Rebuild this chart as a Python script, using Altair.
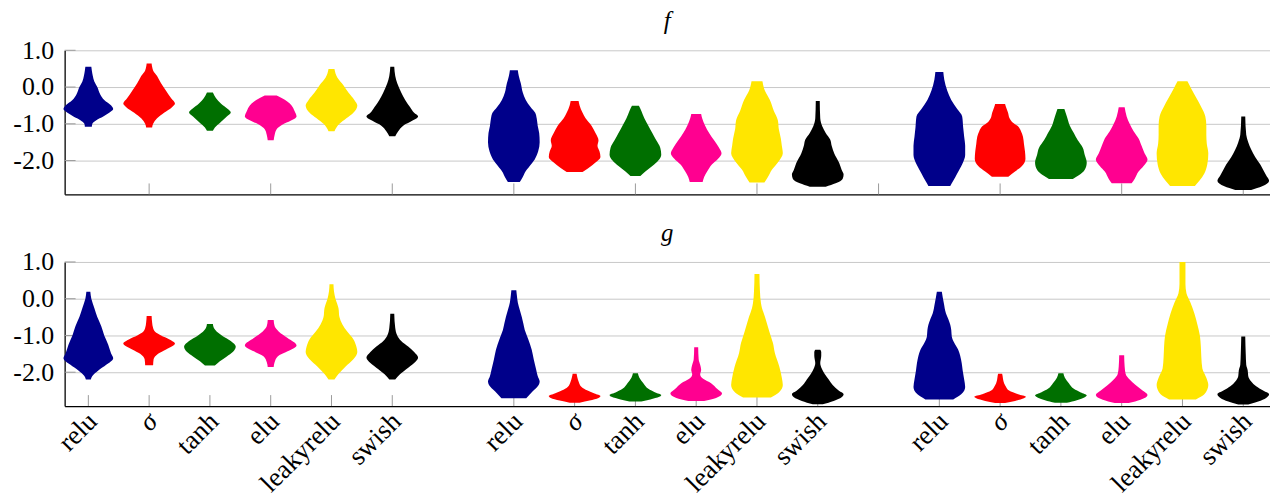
import json
import altair as alt
import pandas as pd

# ---------------- data ----------------
FUNCS = ["relu", "σ", "tanh", "elu", "leakyrelu", "swish"]
COLORS = ["#00008a", "#ff0000", "#006f00", "#ff0090", "#ffe600", "#000000"]
PANEL_NAMES = ["f", "g"]
Y_TICKS = [1.0, 0.0, -1.0, -2.0]
TOP_TICKS = [1, 3, 5, 7, 9, 11, 13, 15, 17, 19]

# violin profiles: (value, half-width density) from bottom to top
F_GROUP1 = {
    "relu": [(-1.08, 3.5), (-1.0, 4), (-0.9, 8), (-0.8, 15), (-0.7, 21), (-0.6, 25), (-0.5, 23), (-0.35, 16), (-0.2, 12), (0.0, 9), (0.15, 6), (0.3, 4.5), (0.45, 3.5), (0.55, 3)],
    "σ": [(-1.1, 3), (-1.0, 4), (-0.85, 8), (-0.7, 15), (-0.55, 23), (-0.45, 26), (-0.3, 22), (-0.1, 17), (0.1, 12), (0.3, 8), (0.45, 4), (0.55, 3), (0.64, 2.5)],
    "tanh": [(-1.19, 3), (-1.1, 5), (-0.95, 11), (-0.8, 17), (-0.69, 21), (-0.6, 18), (-0.45, 11), (-0.3, 6), (-0.15, 3)],
    "elu": [(-1.45, 3), (-1.3, 4), (-1.15, 6), (-1.02, 12), (-0.92, 20), (-0.8, 26), (-0.65, 24), (-0.5, 21), (-0.4, 17), (-0.3, 11), (-0.23, 6)],
    "leakyrelu": [(-1.2, 3), (-1.1, 5), (-1.0, 8), (-0.85, 15), (-0.7, 22), (-0.5, 26), (-0.35, 23), (-0.15, 17), (0.05, 12), (0.25, 6), (0.49, 3)],
    "swish": [(-1.34, 3), (-1.2, 6), (-1.05, 11), (-0.92, 20), (-0.8, 26), (-0.7, 22), (-0.55, 18), (-0.35, 13), (-0.15, 9), (0.1, 5), (0.3, 3), (0.55, 2)],
}
F_GROUP2 = {
    "relu": [(-2.58, 6), (-2.45, 9), (-2.33, 11), (-2.15, 16), (-1.97, 21), (-1.75, 24.5), (-1.5, 26), (-1.25, 25.5), (-1.05, 24), (-0.85, 23), (-0.7, 21.5), (-0.55, 17), (-0.35, 12), (-0.15, 9), (0.1, 7), (0.3, 5), (0.46, 4)],
    "σ": [(-2.31, 8), (-2.2, 14), (-2.05, 21), (-1.9, 26), (-1.75, 25), (-1.6, 23), (-1.45, 24), (-1.25, 21), (-1.05, 17), (-0.85, 11), (-0.7, 8), (-0.5, 5), (-0.38, 4)],
    "tanh": [(-2.42, 5), (-2.3, 10), (-2.15, 17), (-2.0, 23), (-1.84, 26), (-1.65, 25), (-1.45, 21), (-1.25, 17), (-1.05, 13), (-0.85, 9), (-0.65, 6), (-0.51, 3.5)],
    "elu": [(-2.58, 6.5), (-2.45, 8), (-2.3, 11), (-2.1, 16), (-1.95, 22), (-1.8, 25.5), (-1.65, 23), (-1.45, 18), (-1.25, 13), (-1.05, 9), (-0.85, 6), (-0.73, 5)],
    "leakyrelu": [(-2.6, 7.5), (-2.45, 11), (-2.25, 15), (-2.05, 21), (-1.8, 26), (-1.6, 25), (-1.4, 24), (-1.15, 22), (-0.9, 21), (-0.65, 17), (-0.35, 13), (-0.1, 8), (0.16, 5.5)],
    "swish": [(-2.71, 8), (-2.62, 18), (-2.5, 25), (-2.38, 26), (-2.25, 24), (-2.06, 21.5), (-1.8, 16.5), (-1.6, 14), (-1.43, 12.5), (-1.25, 8), (-1.07, 4.5), (-0.85, 2.5), (-0.38, 2)],
}
F_GROUP3 = {
    "relu": [(-2.69, 11), (-2.55, 14), (-2.35, 18), (-2.1, 23), (-1.85, 26), (-1.6, 26), (-1.35, 25), (-1.1, 24), (-0.8, 23), (-0.6, 18), (-0.35, 12), (-0.1, 8), (0.2, 5), (0.41, 4)],
    "σ": [(-2.44, 8.3), (-2.3, 15), (-2.15, 22), (-1.95, 25.5), (-1.75, 25), (-1.55, 24), (-1.35, 23), (-1.2, 21), (-1.07, 18), (-0.95, 12), (-0.85, 9.5), (-0.7, 8), (-0.55, 6), (-0.46, 5)],
    "tanh": [(-2.5, 12), (-2.4, 18), (-2.25, 24), (-2.05, 26), (-1.85, 24), (-1.65, 22), (-1.45, 17), (-1.25, 13), (-1.05, 9), (-0.8, 6), (-0.6, 3.5)],
    "elu": [(-2.62, 10), (-2.5, 13), (-2.3, 17), (-2.15, 22), (-1.97, 26), (-1.8, 23), (-1.6, 20), (-1.4, 17), (-1.2, 12), (-1.0, 8), (-0.8, 5), (-0.55, 3)],
    "leakyrelu": [(-2.69, 12.5), (-2.55, 17), (-2.35, 22), (-2.1, 25), (-1.8, 26), (-1.55, 24.5), (-1.3, 24), (-1.05, 24), (-0.8, 23), (-0.55, 19), (-0.3, 14), (-0.05, 9), (0.16, 5)],
    "swish": [(-2.8, 8), (-2.7, 19), (-2.55, 26), (-2.4, 23), (-2.25, 20), (-2.1, 17), (-1.9, 12), (-1.7, 8), (-1.5, 5), (-1.3, 3), (-0.8, 2)],
}
G_GROUP1 = {
    "relu": [(-2.2, 2.5), (-2.1, 4), (-1.95, 10), (-1.8, 18), (-1.62, 25), (-1.5, 23), (-1.25, 20), (-1.0, 16), (-0.75, 13), (-0.5, 9), (-0.25, 6), (0.0, 3), (0.19, 2)],
    "σ": [(-1.81, 4), (-1.65, 4.5), (-1.5, 9), (-1.38, 17), (-1.22, 26), (-1.1, 20), (-1.0, 12), (-0.9, 6), (-0.8, 4), (-0.65, 3), (-0.47, 2.5)],
    "tanh": [(-1.82, 5), (-1.7, 10), (-1.57, 17), (-1.45, 23), (-1.3, 26), (-1.15, 21), (-1.0, 12), (-0.9, 7), (-0.8, 4), (-0.69, 3)],
    "elu": [(-1.86, 3), (-1.72, 4), (-1.57, 7), (-1.43, 17), (-1.27, 26), (-1.07, 17), (-0.89, 8), (-0.75, 4), (-0.58, 3)],
    "leakyrelu": [(-2.2, 3), (-2.05, 7), (-1.85, 14), (-1.65, 22), (-1.45, 26), (-1.3, 25), (-1.1, 22), (-0.9, 16), (-0.7, 11), (-0.5, 8), (-0.25, 7), (0.0, 4), (0.2, 2.5), (0.39, 2)],
    "swish": [(-2.2, 3), (-2.05, 8), (-1.92, 14), (-1.75, 22), (-1.6, 26), (-1.45, 22), (-1.3, 16), (-1.15, 9), (-1.0, 5), (-0.8, 3), (-0.41, 2)],
}
G_GROUP2 = {
    "relu": [(-2.71, 12.5), (-2.52, 19), (-2.35, 25), (-2.25, 26), (-2.1, 24), (-1.93, 22.5), (-1.65, 20), (-1.39, 18), (-1.1, 14.5), (-0.85, 11), (-0.67, 9.5), (-0.5, 8), (-0.31, 6), (-0.1, 4), (0.1, 3), (0.23, 2.5)],
    "σ": [(-2.83, 5), (-2.77, 15), (-2.7, 24), (-2.65, 26), (-2.58, 20), (-2.5, 13), (-2.4, 7), (-2.25, 4), (-2.04, 2)],
    "tanh": [(-2.8, 6), (-2.74, 15), (-2.67, 24), (-2.62, 26), (-2.55, 20), (-2.45, 13), (-2.3, 8), (-2.15, 4), (-2.03, 2.5)],
    "elu": [(-2.78, 8), (-2.7, 20), (-2.58, 26), (-2.45, 21), (-2.3, 15), (-2.18, 7), (-2.06, 4), (-1.93, 5), (-1.8, 4), (-1.65, 2.5), (-1.32, 2)],
    "leakyrelu": [(-2.69, 14), (-2.55, 22), (-2.35, 26), (-2.15, 25), (-1.85, 22.5), (-1.48, 18), (-1.2, 16), (-1.03, 14), (-0.76, 11), (-0.49, 8), (-0.25, 5), (-0.12, 4), (0.2, 3), (0.67, 2.5)],
    "swish": [(-2.87, 5), (-2.78, 16), (-2.68, 24), (-2.6, 26), (-2.5, 21), (-2.35, 15), (-2.2, 11), (-2.05, 7), (-1.9, 4), (-1.75, 2.5), (-1.55, 3.5), (-1.45, 3.5), (-1.39, 2.5)],
}
G_GROUP3 = {
    "relu": [(-2.74, 14), (-2.6, 22), (-2.4, 26), (-2.2, 25), (-1.95, 23.5), (-1.75, 22.5), (-1.55, 21), (-1.39, 19), (-1.2, 15), (-1.03, 12.5), (-0.85, 12), (-0.71, 11), (-0.55, 9), (-0.4, 6.7), (-0.12, 4.5), (0.19, 2.5)],
    "σ": [(-2.84, 5), (-2.78, 15), (-2.71, 24), (-2.67, 26), (-2.6, 18), (-2.5, 9), (-2.4, 6), (-2.3, 4), (-2.2, 3), (-2.1, 2.5), (-2.04, 2)],
    "tanh": [(-2.83, 6), (-2.76, 16), (-2.68, 24), (-2.63, 26), (-2.55, 20), (-2.45, 13), (-2.3, 8), (-2.15, 4), (-2.03, 2.5)],
    "elu": [(-2.84, 7), (-2.75, 19), (-2.62, 26), (-2.5, 21), (-2.35, 14), (-2.2, 8), (-2.05, 4), (-1.85, 3), (-1.54, 2.5)],
    "leakyrelu": [(-2.74, 13.5), (-2.6, 22), (-2.35, 26), (-2.15, 24), (-1.9, 20), (-1.6, 19), (-1.3, 18.5), (-1.0, 17.5), (-0.7, 15), (-0.4, 12), (-0.1, 8), (0.15, 4), (0.4, 3), (1.0, 3)],
    "swish": [(-2.88, 5), (-2.8, 15), (-2.7, 23), (-2.6, 26), (-2.5, 20), (-2.38, 13), (-2.25, 8), (-2.1, 5), (-1.95, 4.5), (-1.8, 3), (-1.5, 2.5), (-1.03, 2)],
}

PANEL_GROUPS = {"f": [F_GROUP1, F_GROUP2, F_GROUP3], "g": [G_GROUP1, G_GROUP2, G_GROUP3]}

# ---------------- layout / style ----------------
FONT = "Liberation Serif"
FS_Y = 26
FS_X = 27
FS_T = 25
PLOT_W = 1213
PLOT_H = 145
GROUP_STEP = 7
X_DOMAIN = [-0.39, 19.44]
Y_DOMAIN = [-2.92, 1.0]
WIDTH_K = 1 / 61.16  # density -> slot units

rows = []
for pname in PANEL_NAMES:
    for gi, grp in enumerate(PANEL_GROUPS[pname]):
        for fi, fn in enumerate(FUNCS):
            pos = gi * GROUP_STEP + fi
            for v, w in grp[fn]:
                rows.append({"panel": pname, "fi": fi, "pos": pos, "v": v,
                             "lo": pos - w * WIDTH_K, "hi": pos + w * WIDTH_K,
                             "vid": f"{pname}-{gi}-{fi}"})
df = pd.DataFrame(rows)

VIOLIN_POS = [gi * GROUP_STEP + fi for gi in range(3) for fi in range(len(FUNCS))]
label_arr = json.dumps(FUNCS, ensure_ascii=False)


def make_panel(pname, tick_positions, show_labels):
    xs = alt.Scale(domain=X_DOMAIN, nice=False, zero=False)
    ys = alt.Scale(domain=Y_DOMAIN, nice=False, zero=False)
    if show_labels:
        xaxis = alt.Axis(
            values=VIOLIN_POS,
            labelExpr=f"{label_arr}[datum.value % {GROUP_STEP}]",
            labelAngle=315, labelAlign="right", labelBaseline="middle",
            labelPadding=11, labelOffset=4, labelFont=FONT, labelFontSize=FS_X,
            labelColor="black",
            labelFontStyle={"condition": {"test": f"datum.value % {GROUP_STEP} == 1",
                                          "value": "italic"},
                            "value": "normal"},
            labelOverlap=False, labelFlush=False, ticks=False, grid=False,
            domainColor="black", domainWidth=1.3, title=None)
    else:
        xaxis = alt.Axis(labels=False, ticks=False, grid=False, domainColor="black",
                         domainWidth=1.3, title=None)
    yaxis = alt.Axis(
        values=Y_TICKS,
        labelExpr="(datum.value < 0 ? '-' : '') + format(abs(datum.value), '.1f')",
        grid=True, gridColor="#c8c8c8", gridWidth=1, ticks=False,
        domainColor="black", domainWidth=1.3, labelFont=FONT, labelFontSize=FS_Y,
        labelColor="black", labelPadding=11, labelOverlap=False, labelFlush=False,
        title=None)

    xticks = alt.Chart(pd.DataFrame({"pos": tick_positions})).mark_rule(
        color="#9a9a9a", strokeWidth=1).encode(
        x=alt.X("pos:Q", scale=xs, axis=xaxis),
        y=alt.value(PLOT_H - 11), y2=alt.value(PLOT_H))
    yticks = alt.Chart(pd.DataFrame({"v": Y_TICKS})).mark_rule(
        color="#9a9a9a", strokeWidth=1).encode(
        y=alt.Y("v:Q", scale=ys, axis=yaxis), x=alt.value(0), x2=alt.value(11))

    violins = alt.Chart(df[df.panel == pname].reset_index(drop=True)).mark_area(
        orient="horizontal", interpolate="monotone").encode(
        x=alt.X("lo:Q", scale=xs, axis=xaxis, stack=None),
        x2="hi:Q",
        y=alt.Y("v:Q", scale=ys, axis=yaxis),
        color=alt.Color("fi:N", scale=alt.Scale(domain=list(range(len(FUNCS))), range=COLORS),
                        legend=None),
        detail="vid:N",
    )

    return alt.layer(xticks, yticks, violins).properties(
        width=PLOT_W, height=PLOT_H,
        title=alt.TitleParams(pname, font=FONT, fontStyle="italic", fontWeight="normal",
                              fontSize=FS_T, color="black", baseline="alphabetic",
                              offset=-17, anchor="middle", frame="group"))


top = make_panel("f", TOP_TICKS, False)
bottom = make_panel("g", VIOLIN_POS, True)

chart = alt.vconcat(top, bottom, spacing=26).properties(
    padding={"left": 4, "top": 0, "right": 0, "bottom": 0}
).configure_view(stroke=None)

chart.save("out.html", embed_options={"renderer": "svg", "actions": False})
